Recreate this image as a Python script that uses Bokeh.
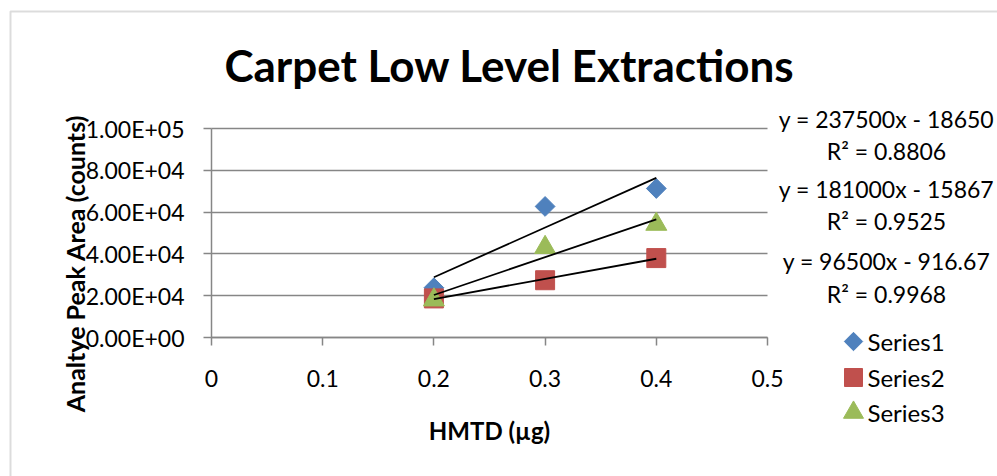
import numpy as np
from bokeh.plotting import figure
from bokeh.models import (Range1d, FixedTicker, Label, PolyAnnotation, LinearAxis, Grid)
from bokeh.embed import file_html
from bokeh.resources import INLINE

# ---- data ----
x_vals = [0.2, 0.3, 0.4]
series1 = [23800, 62700, 71300]
series2 = [18700, 27400, 38000]
series3 = [18000, 43100, 54200]
series_names = ["Series1", "Series2", "Series3"]
series_colors = ["#4F81BD", "#C0504D", "#9BBB59"]
equations = ["y = 237500x - 18650", "y = 181000x - 15867", "y = 96500x - 916.67"]
r2_labels = ["R² = 0.8806", "R² = 0.9525", "R² = 0.9968"]
x_ticks = [0, 0.1, 0.2, 0.3, 0.4, 0.5]
x_tick_labels = ["0", "0.1", "0.2", "0.3", "0.4", "0.5"]
y_ticks = [0, 20000, 40000, 60000, 80000, 100000]
y_tick_labels = ["0.00E+00", "2.00E+04", "4.00E+04", "6.00E+04", "8.00E+04", "1.00E+05"]
title_text = "Carpet Low Level Extractions"
x_title = "HMTD (µg)"
y_title = "Analtye Peak Area (counts)"

FONT = "Lato"
W, H = 997, 476
FL, FR, FT, FB = 211, 767, 128, 337   # plot-area edges in pixels
X0, X1, Y0, Y1 = 0.0, 0.5, 0.0, 100000.0

def X(px):
    return X0 + (px - FL) / (FR - FL) * (X1 - X0)

def Y(py):
    return Y0 + (FB - py) / (FB - FT) * (Y1 - Y0)

# the frame covers the whole canvas; the axes are pinned at the data origin
p = figure(width=W, height=H, output_backend="svg", toolbar_location=None,
           x_range=Range1d(X(0), X(W)), y_range=Range1d(Y(H), Y(0)),
           x_axis_location=None, y_axis_location=None,
           min_border=0)
p.outline_line_color = None
p.background_fill_color = "white"
p.border_fill_color = "white"
p.grid.visible = False

grey = "#868686"

xaxis = LinearAxis(fixed_location=Y0, bounds=(X0, X1),
                   ticker=FixedTicker(ticks=x_ticks),
                   major_label_overrides={t: l for t, l in zip(x_ticks, x_tick_labels)})
yaxis = LinearAxis(fixed_location=X0, bounds=(Y0, Y1),
                   ticker=FixedTicker(ticks=y_ticks),
                   major_label_overrides={t: l for t, l in zip(y_ticks, y_tick_labels)})
for ax in (xaxis, yaxis):
    ax.axis_line_color = grey
    ax.axis_line_width = 1.5
    ax.major_tick_line_color = grey
    ax.major_tick_line_width = 1.5
    ax.major_tick_out = 8
    ax.major_tick_in = 0
    ax.minor_tick_line_color = None
    ax.major_label_text_font = FONT
    ax.major_label_text_font_size = "23px"
    ax.major_label_text_color = "black"
yaxis.major_label_standoff = 19
xaxis.major_label_standoff = 24
xaxis.axis_label = x_title
xaxis.axis_label_text_font = FONT
xaxis.axis_label_text_font_size = "24px"
xaxis.axis_label_text_font_style = "bold"
xaxis.axis_label_text_color = "black"
xaxis.axis_label_standoff = 26
p.add_layout(xaxis, "below")
p.add_layout(yaxis, "left")

ygrid = Grid(dimension=1, ticker=yaxis.ticker, bounds=(Y0, Y1), cross_bounds=(X0, X1),
             grid_line_color=grey, grid_line_width=1.5)
p.add_layout(ygrid)

# outer chart-area border (left and top edges visible)
p.add_layout(PolyAnnotation(xs=[X(10), X(1200), X(1200), X(10)],
                            ys=[Y(11), Y(11), Y(700), Y(700)],
                            fill_alpha=0, line_color="#8C8C8C", line_width=2))

all_series = [series1, series2, series3]
markers = [dict(marker="square", angle=np.pi / 4, size=14),
           dict(marker="square", angle=0, size=19),
           dict(marker="triangle", angle=0, size=21)]
legend_rows = [341, 377, 412]
for name, ys, col, mk, row in zip(series_names, all_series, series_colors, markers, legend_rows):
    # data points
    p.scatter(x_vals, ys, marker=mk["marker"], angle=mk["angle"], size=mk["size"],
              fill_color=col, line_color=col)
    # legend entry (drawn by hand so the diamond keeps its rotation)
    p.scatter([X(853)], [Y(row)], marker=mk["marker"], angle=mk["angle"],
              size=mk["size"] - 1, fill_color=col, line_color=col)
    p.add_layout(Label(x=X(867), y=Y(row), text=name, text_align="left",
                       text_baseline="middle", text_font=FONT,
                       text_font_size="24px", text_color="black"))

# linear trendlines
for ys in all_series:
    m, b = np.polyfit(x_vals, ys, 1)
    xs = [min(x_vals), max(x_vals)]
    p.line(xs, [m * v + b for v in xs], line_color="black", line_width=1.8)

# title
p.add_layout(Label(x=X(509), y=Y(64), text=title_text, text_align="center",
                   text_baseline="middle", text_font=FONT, text_font_size="44px",
                   text_font_style="bold", text_color="black"))
# y-axis title
p.add_layout(Label(x=X(74), y=Y(263), text=y_title, angle=np.pi / 2,
                   text_align="center", text_baseline="middle", text_font=FONT,
                   text_font_size="25px", text_font_style="bold", text_color="black"))

# trendline equations
eq_rows = [(118, 150), (188, 220), (260, 293)]
for eq, r2, (ya, yb) in zip(equations, r2_labels, eq_rows):
    for txt, yy in ((eq, ya), (r2, yb)):
        p.add_layout(Label(x=X(886), y=Y(yy), text=txt, text_align="center",
                           text_baseline="middle", text_font=FONT,
                           text_font_size="23px", text_color="black"))

open("out.html", "w").write(file_html(p, INLINE))
